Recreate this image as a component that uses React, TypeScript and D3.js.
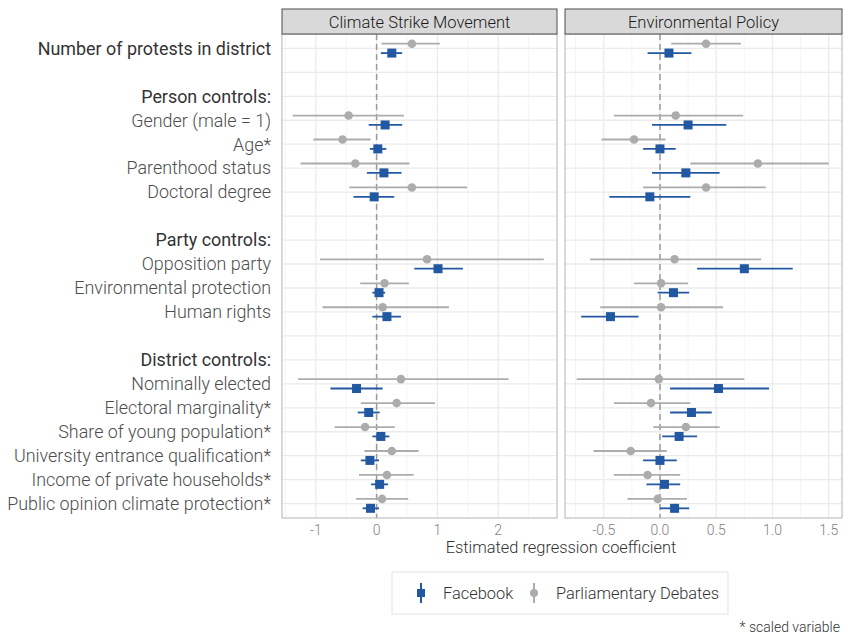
import React from 'react';
import * as d3 from 'd3';

// row keys in display order (blank rows are spacers)
const rows = [
  'protests', 'b1', 'hPerson', 'gender', 'age', 'parent', 'doctor', 'b2',
  'hParty', 'opposition', 'envprot', 'human', 'b3',
  'hDistrict', 'nominal', 'marginal', 'young', 'univ', 'income', 'opinion',
];
const rowLabels = [
  'Number of protests in district', '', 'Person controls:', 'Gender (male = 1)', 'Age*',
  'Parenthood status', 'Doctoral degree', '', 'Party controls:', 'Opposition party',
  'Environmental protection', 'Human rights', '', 'District controls:', 'Nominally elected',
  'Electoral marginality*', 'Share of young population*', 'University entrance qualification*',
  'Income of private households*', 'Public opinion climate protection*',
];
const headerRows = ['protests', 'hPerson', 'hParty', 'hDistrict'];
const termRows = [
  'protests', 'gender', 'age', 'parent', 'doctor', 'opposition', 'envprot', 'human',
  'nominal', 'marginal', 'young', 'univ', 'income', 'opinion',
];

const panels = ['Climate Strike Movement', 'Environmental Policy'];

// Climate Strike Movement: [estimate, low, high]
const strikeFacebook = [
  [0.25, 0.07, 0.42], [0.14, -0.13, 0.42], [0.02, -0.11, 0.16], [0.12, -0.16, 0.41],
  [-0.04, -0.38, 0.29], [1.01, 0.62, 1.42], [0.04, -0.07, 0.14], [0.17, -0.07, 0.4],
  [-0.33, -0.76, 0.1], [-0.13, -0.31, 0.05], [0.07, -0.07, 0.21], [-0.11, -0.26, 0.04],
  [0.05, -0.09, 0.19], [-0.1, -0.23, 0.04],
];
const strikeDebates = [
  [0.58, 0.08, 1.04], [-0.46, -1.38, 0.45], [-0.56, -1.04, -0.1], [-0.35, -1.25, 0.54],
  [0.58, -0.45, 1.49], [0.83, -0.93, 2.75], [0.13, -0.27, 0.53], [0.1, -0.89, 1.19],
  [0.4, -1.29, 2.17], [0.33, -0.26, 0.96], [-0.19, -0.69, 0.3], [0.25, -0.2, 0.69],
  [0.17, -0.29, 0.61], [0.09, -0.34, 0.52],
];
// Environmental Policy
const policyFacebook = [
  [0.08, -0.11, 0.28], [0.25, -0.07, 0.59], [0.0, -0.15, 0.14], [0.23, -0.07, 0.53],
  [-0.09, -0.45, 0.27], [0.75, 0.33, 1.18], [0.12, -0.02, 0.26], [-0.44, -0.7, -0.19],
  [0.52, 0.09, 0.97], [0.28, 0.09, 0.46], [0.17, 0.02, 0.33], [0.0, -0.15, 0.15],
  [0.04, -0.12, 0.18], [0.13, 0.0, 0.26],
];
const policyDebates = [
  [0.41, 0.1, 0.72], [0.14, -0.41, 0.74], [-0.23, -0.52, 0.05], [0.87, 0.27, 1.5],
  [0.41, -0.15, 0.94], [0.13, -0.62, 0.9], [0.01, -0.23, 0.25], [0.01, -0.53, 0.56],
  [-0.01, -0.74, 0.75], [-0.08, -0.41, 0.27], [0.23, -0.06, 0.53], [-0.26, -0.59, 0.06],
  [-0.11, -0.41, 0.18], [-0.02, -0.29, 0.24],
];

const strikeTicks = [-1, 0, 1, 2];
const strikeMinor = [-1.5, -0.5, 0.5, 1.5, 2.5];
const policyTicks = [-0.5, 0, 0.5, 1, 1.5];
const policyMinor = [-0.75, -0.25, 0.25, 0.75, 1.25];

const BLUE = '#2258a1';
const GREY = '#acacac';
const FONT = 'Roboto, sans-serif';

const top = 34;
const bottom = 518;
const y = d3.scalePoint<string>().domain(rows).range([top, bottom]).padding(0.6);
const dodge = 4.7;

const panelDefs = [
  {
    title: panels[0], x0: 282, x1: 557, domain: [-1.556, 2.967],
    ticks: strikeTicks, minor: strikeMinor, fb: strikeFacebook, pd: strikeDebates,
    fmt: (v: number) => d3.format('d')(v).replace('−', '-'),
  },
  {
    title: panels[1], x0: 565, x1: 842, domain: [-0.844, 1.618],
    ticks: policyTicks, minor: policyMinor, fb: policyFacebook, pd: policyDebates,
    fmt: (v: number) => d3.format('.1f')(v).replace('−', '-'),
  },
];

function Panel({ def }: { def: (typeof panelDefs)[number] }) {
  const x = d3.scaleLinear().domain(def.domain).range([def.x0, def.x1]);
  const w = def.x1 - def.x0;
  return (
    <g>
      <rect x={def.x0} y={top} width={w} height={bottom - top} fill="#fff" />
      {def.minor.map((v) => (
        <line key={'m' + v} x1={x(v)} x2={x(v)} y1={top} y2={bottom} stroke="#f2f2f2" strokeWidth={0.8} />
      ))}
      {def.ticks.map((v) => (
        <line key={'t' + v} x1={x(v)} x2={x(v)} y1={top} y2={bottom} stroke="#ebebeb" strokeWidth={1.3} />
      ))}
      {rows.map((r) => (
        <line key={r} x1={def.x0} x2={def.x1} y1={y(r)} y2={y(r)} stroke="#ebebeb" strokeWidth={1.3} />
      ))}
      <line x1={x(0)} x2={x(0)} y1={top} y2={bottom} stroke="#9a9a9a" strokeWidth={1.5} strokeDasharray="6,4" />
      {termRows.map((r, i) => {
        const yc = y(r)!;
        const [pe, pl, ph] = def.pd[i];
        const [fe, fl, fh] = def.fb[i];
        return (
          <g key={r}>
            <line x1={x(pl)} x2={x(ph)} y1={yc - dodge} y2={yc - dodge} stroke={GREY} strokeWidth={1.8} />
            <circle cx={x(pe)} cy={yc - dodge} r={4.3} fill={GREY} />
            <line x1={x(fl)} x2={x(fh)} y1={yc + dodge} y2={yc + dodge} stroke={BLUE} strokeWidth={1.8} />
            <rect x={x(fe) - 4.5} y={yc + dodge - 4.5} width={9} height={9} fill={BLUE} />
          </g>
        );
      })}
      <rect x={def.x0} y={top} width={w} height={bottom - top} fill="none" stroke="#b3b3b3" strokeWidth={1} />
      <rect x={def.x0} y={9} width={w} height={top - 9} fill="#d9d9d9" stroke="#4d4d4d" strokeWidth={1} />
      <text x={def.x0 + w / 2} y={27.5} textAnchor="middle" fontSize={16.5} fontWeight={300} fill="#1a1a1a">
        {def.title}
      </text>
      {def.ticks.map((v) => (
        <text key={'l' + v} x={x(v)} y={535} textAnchor="middle" fontSize={14} fontWeight={300} fill="#7f7f7f">
          {def.fmt(v)}
        </text>
      ))}
    </g>
  );
}

export default function App() {
  return (
    <svg width={845} height={637} style={{ display: 'block', position: 'absolute', left: 0, top: 0 }} fontFamily={FONT}>
      <rect width={845} height={637} fill="#fff" />
      {rows.map((r, i) => {
        const header = headerRows.includes(r);
        return (
          <text key={r} x={271} y={y(r)! + 6.3} textAnchor="end" fontSize={17.9}
            fontWeight={header ? 400 : 300} fill={header ? '#333' : '#4d4d4d'}>
            {rowLabels[i]}
          </text>
        );
      })}
      {panelDefs.map((d) => <Panel key={d.title} def={d} />)}
      <text x={561} y={553} textAnchor="middle" fontSize={16.4} fontWeight={300} fill="#333">
        Estimated regression coefficient
      </text>
      <g>
        <rect x={392} y={572} width={336} height={42} fill="#fff" stroke="#e3e3e3" strokeWidth={1} />
        <line x1={421} x2={421} y1={583} y2={603} stroke={BLUE} strokeWidth={2} />
        <rect x={417} y={589} width={8} height={8} fill={BLUE} />
        <text x={443} y={599} fontSize={16.4} fontWeight={300} fill="#333">Facebook</text>
        <line x1={534} x2={534} y1={583} y2={603} stroke={GREY} strokeWidth={2} />
        <circle cx={534} cy={593} r={4} fill={GREY} />
        <text x={556} y={599} fontSize={16.4} fontWeight={300} fill="#333">Parliamentary Debates</text>
      </g>
      <text x={840} y={632} textAnchor="end" fontSize={14} fontWeight={300} fill="#333">* scaled variable</text>
    </svg>
  );
}
